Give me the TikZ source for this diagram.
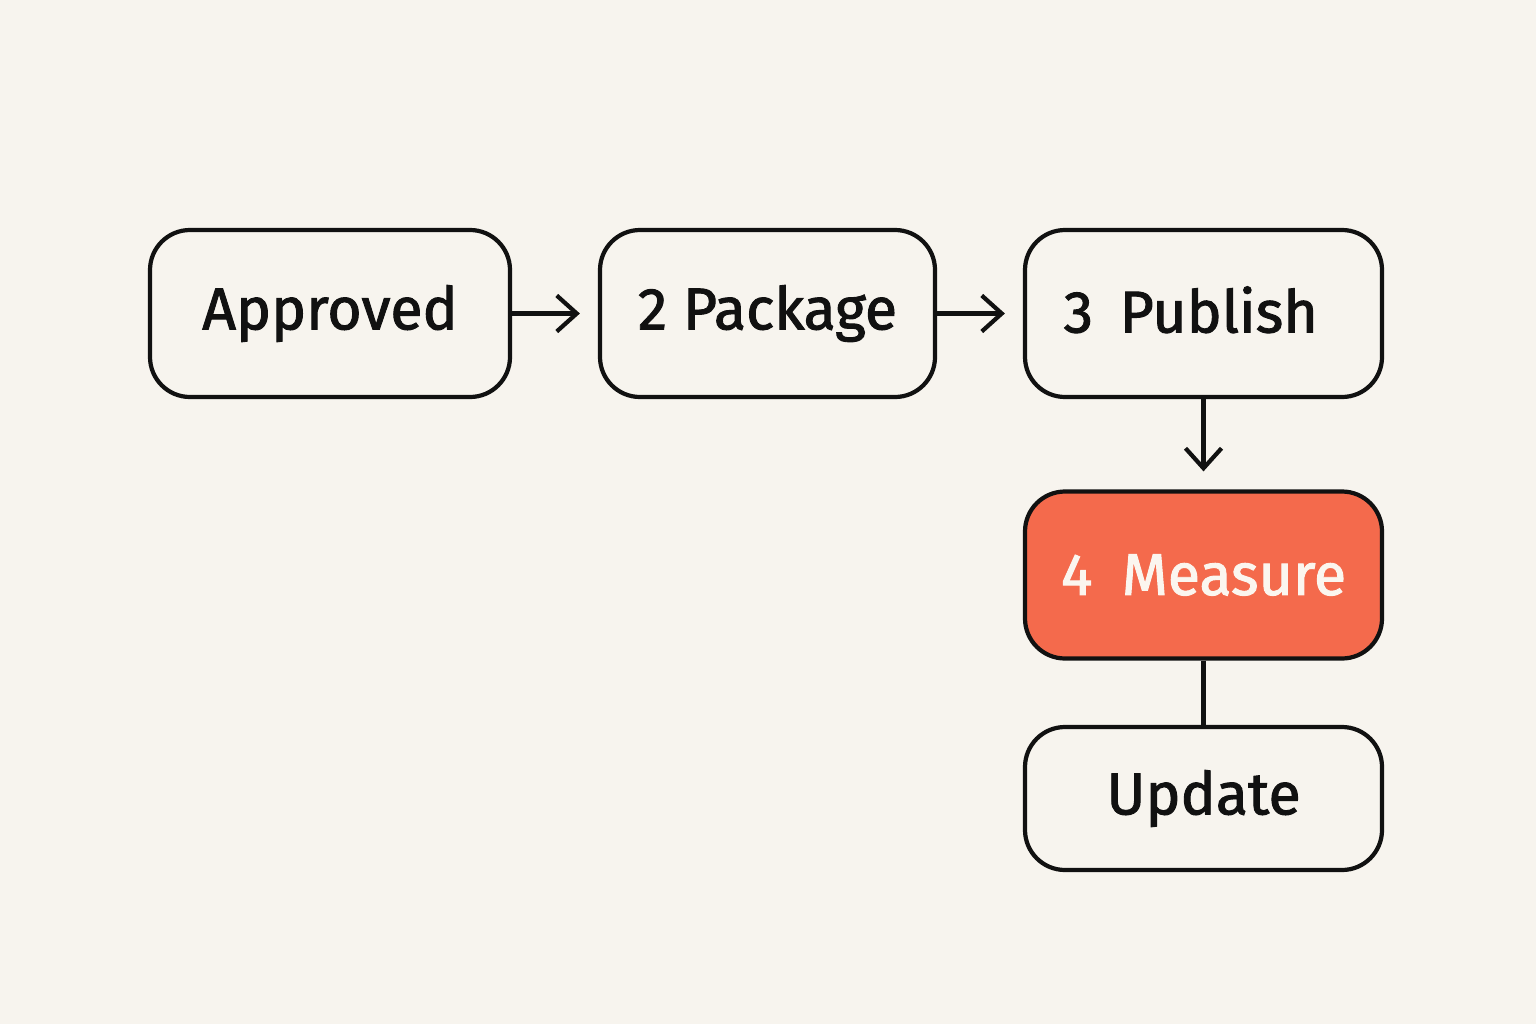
\documentclass[tikz,border=0pt]{standalone}
\usepackage{fontspec}
\setmainfont{Fira Sans}
\newfontfamily\boxfont{Fira Sans}[FakeBold=1.6]
\usetikzlibrary{arrows.meta}
\definecolor{bgcol}{HTML}{F7F4EE}
\definecolor{linecol}{HTML}{111111}
\definecolor{accent}{HTML}{F46A4C}
\definecolor{lighttext}{HTML}{FBF6EF}
\tikzset{
  box/.style={draw=linecol, line width=1.2pt, rounded corners=0.4cm, minimum height=1.67cm,
    inner sep=0pt, font=\boxfont\fontsize{16.8}{20}\selectfont, text=linecol, align=center},
  hot/.style={box, fill=accent, text=lighttext},
  flow/.style={draw=linecol, line width=1.2pt, -{Straight Barb[length=0.2cm,width=0.36cm,line width=1.2pt]}, shorten >=0.18cm},
  link/.style={draw=linecol, line width=1.2pt}
}
\begin{document}
\begin{tikzpicture}
\fill[bgcol] (0,0) rectangle (15.36,10.24);
\useasboundingbox (0,0) rectangle (15.36,10.24);
\node[box, minimum width=3.6cm] (a) at (3.30,7.105) {Approved};
\node[box, minimum width=3.35cm] (p) at (7.675,7.105) {2 Package};
\node[box, minimum width=3.57cm] (u) at (12.035,7.105) {};
\node[font=\boxfont\fontsize{16.8}{20}\selectfont, text=linecol, inner sep=0pt, anchor=base west] (ut) at ([xshift=0.4cm, yshift=-0.19cm]u.west) {3\hspace{0.45em}Publish};
\node[hot, minimum width=3.57cm] (m) at (12.035,4.49) {4\hspace{0.5em}Measure};
\node[box, minimum width=3.57cm, minimum height=1.43cm] (d) at (12.035,2.255) {Update};
\draw[flow] (a.east) -- (p.west);
\draw[flow] (p.east) -- (u.west);
\draw[flow] (u.south) -- (m.north);
\draw[link] (m.south) -- (d.north);
\end{tikzpicture}
\end{document}
